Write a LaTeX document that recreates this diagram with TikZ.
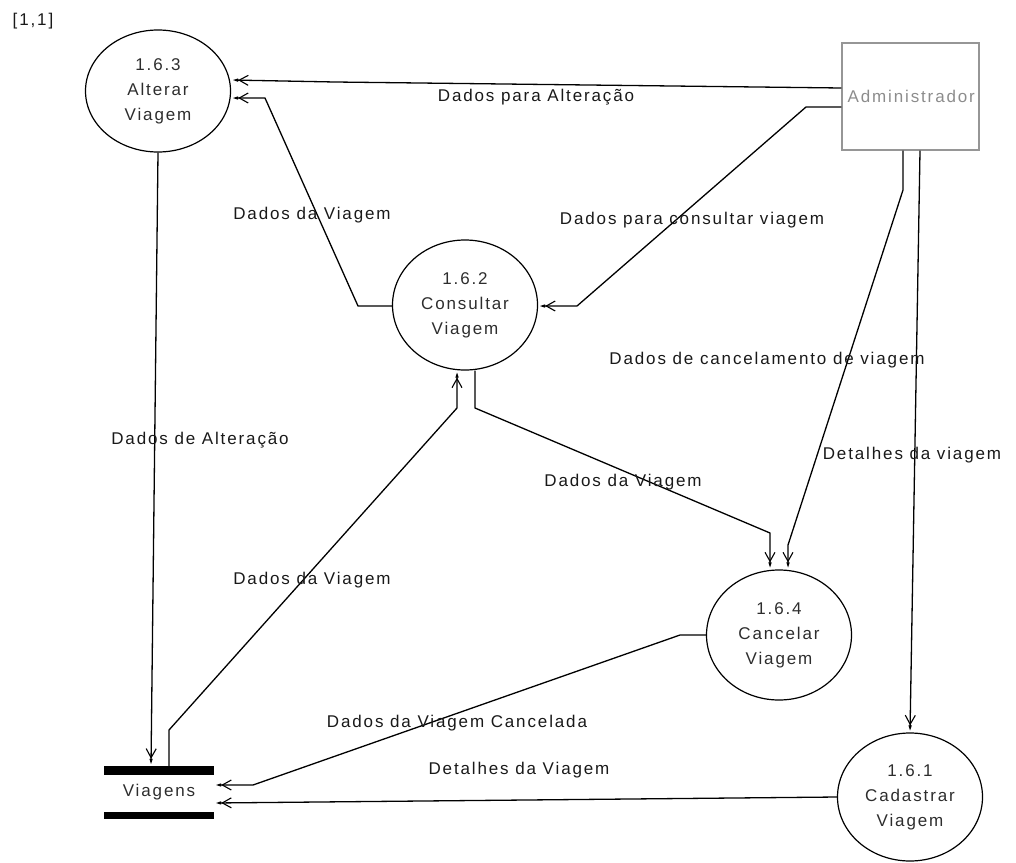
\documentclass[tikz,border=0pt]{standalone}
\usepackage{fontspec}
\setmainfont{Liberation Sans}[LetterSpace=11]
\usetikzlibrary{shapes.geometric,arrows.meta}

\definecolor{textoproc}{RGB}{45,45,45}
\definecolor{textoadm}{RGB}{140,140,140}
\definecolor{bordaadm}{RGB}{150,150,150}

\tikzset{
  processo/.style={ellipse, draw, line width=1.2pt, inner sep=0pt,
    minimum width=145pt, minimum height=128pt, align=center,
    text=textoproc, font=\fontsize{17}{25}\selectfont},
  entidade/.style={draw=bordaadm, line width=1.2pt, inner sep=0pt,
    minimum width=137pt, minimum height=107pt},
  deposito/.style={inner sep=0pt, minimum width=110pt, minimum height=53pt,
    text=textoproc, font=\fontsize{17}{20}\selectfont},
  fluxo/.style={draw, line width=1.3pt,
    -{Straight Barb[length=9pt,width=10pt,line width=1.1pt]Latex[length=7pt,width=3.5pt]}},
  rotulo/.style={font=\fontsize{17}{20}\selectfont, text=black!90}
}

\begin{document}
\begin{tikzpicture}[x=1pt,y=-1pt]
  \useasboundingbox (0,0) rectangle (1016,862);

  % processos, entidade e deposito
  \node[processo, minimum height=122pt] (alterar) at (158,91) {1.6.3\\Alterar\\Viagem};
  \node[processo, minimum height=130pt] (consultar) at (465,305) {1.6.2\\Consultar\\Viagem};
  \node[processo, minimum height=130pt] (cancelar) at (779,635) {1.6.4\\Cancelar\\Viagem};
  \node[processo] (cadastrar) at (910,797) {1.6.1\\Cadastrar\\Viagem};
  \node[entidade] (adm) at (910.5,96.5) {};
  \node[anchor=west, text=textoadm, font=\fontsize{17}{20}\selectfont, inner sep=0pt]
    (admtexto) at ([xshift=6pt]adm.west) {Administrador};
  \node[deposito] (viagens) at (159,792.5) {Viagens};
  \fill (viagens.north west) rectangle ([yshift=-9pt]viagens.north east);
  \fill (viagens.south west) rectangle ([yshift=7pt]viagens.south east);

  \node[rotulo] (canto) at (33,21) {[1,1]};

  % fluxos
  \begin{scope}[fluxo]
    \draw (adm.west |- 0,88) -- (335,82) -- (alterar.east |- 0,80);
    \draw (adm.west |- 0,107) -- (806,107) -- (577,306) -- (consultar.east |- 0,306);
    \draw (consultar.west |- 0,306) -- (358,306) -- (265,98) -- (alterar.east |- 0,98);
    \draw (alterar.south) -- (viagens.north -| 151,0);
    \draw (viagens.north -| 169,0) -- (169,730) -- (457,408) -- (consultar.south -| 457,0);
    \draw (consultar.south -| 475,0) -- (475,408) -- (770,533) -- (cancelar.north -| 770,0);
    \draw (adm.south -| 903,0) -- (903,190) -- (788,545) -- (cancelar.north -| 788,0);
    \draw (adm.south -| 920,0) -- (cadastrar.north);
    \draw (cancelar.west) -- (680,635) -- (253,785) -- (viagens.east |- 0,785);
    \draw (cadastrar.west) -- (viagens.east |- 0,803);
  \end{scope}

  % rotulos dos fluxos
  \node[rotulo] (r1) at (536,97) {Dados para Alteração};
  \node[rotulo] (r2) at (692,220) {Dados para consultar viagem};
  \node[rotulo] (r3) at (312,215) {Dados da Viagem};
  \node[rotulo] (r4) at (200,440) {Dados de Alteração};
  \node[rotulo] (r5) at (312,580) {Dados da Viagem};
  \node[rotulo] (r6) at (623,482) {Dados da Viagem};
  \node[rotulo] (r7) at (767,360) {Dados de cancelamento de viagem};
  \node[rotulo] (r8) at (912,455) {Detalhes da viagem};
  \node[rotulo] (r9) at (457,723) {Dados da Viagem Cancelada};
  \node[rotulo] (r10) at (519,770) {Detalhes da Viagem};
\end{tikzpicture}
\end{document}
